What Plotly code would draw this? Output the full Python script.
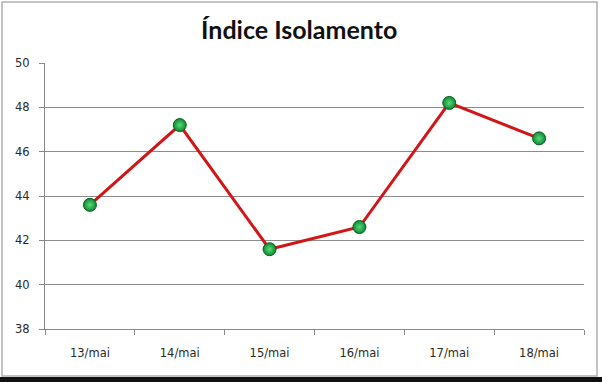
import plotly.graph_objects as go

categories = ["13/mai", "14/mai", "15/mai", "16/mai", "17/mai", "18/mai"]
values = [43.6, 47.2, 41.6, 42.6, 48.2, 46.6]
y_ticks = [38, 40, 42, 44, 46, 48, 50]

fig = go.Figure()
fig.add_trace(go.Scatter(
    x=categories, y=values, mode="lines+markers",
    line=dict(color="#d01616", width=3),
    marker=dict(size=13, color="#0b8a32",
                gradient=dict(type="radial", color="#5ada7a"),
                line=dict(color="#0a5e22", width=1)),
    cliponaxis=False, showlegend=False, hoverinfo="skip",
))

axis_font = dict(family="DejaVu Sans, Verdana, sans-serif", size=11.5, color="#2a2a2a")

fig.update_layout(
    width=602, height=382,
    margin=dict(l=45, r=18, t=63, b=53, autoexpand=False),
    paper_bgcolor="white", plot_bgcolor="white",
    title=dict(text="<b>Índice Isolamento</b>", x=0.497, xanchor="center", y=0.921, yanchor="middle",
               font=dict(family="Lato, Open Sans, sans-serif", size=25, color="#111111")),
    xaxis=dict(type="category", range=[-0.5, 5.5], showgrid=False, automargin=False,
               showline=True, linecolor="#888888", linewidth=1,
               ticks="outside", ticklen=5, tickcolor="#888888",
               tickson="boundaries", tickfont=axis_font, ticklabelstandoff=13),
    yaxis=dict(range=[38, 50], tickvals=y_ticks, showgrid=True, gridcolor="#8c8c8c", gridwidth=1,
               automargin=False,
               showline=True, linecolor="#888888", linewidth=1, zeroline=False,
               ticks="outside", ticklen=5, tickcolor="#888888", tickfont=axis_font,
               ticklabelstandoff=7),
    shapes=[
        dict(type="rect", xref="paper", yref="paper",
             x0=-43/539, x1=(597-45)/539, y0=-(376-329)/266, y1=(329-2)/266,
             line=dict(color="#b0b0b0", width=1.5), layer="below"),
        dict(type="rect", xref="paper", yref="paper",
             x0=-45/539, x1=557/539, y0=-(382-329)/266, y1=-(377-329)/266,
             line=dict(width=0), fillcolor="#111111"),
    ],
)

fig.write_html("out.html", config={"displayModeBar": False},
               post_script="document.body.style.margin='0';document.body.style.padding='0';document.body.style.overflow='hidden';")
